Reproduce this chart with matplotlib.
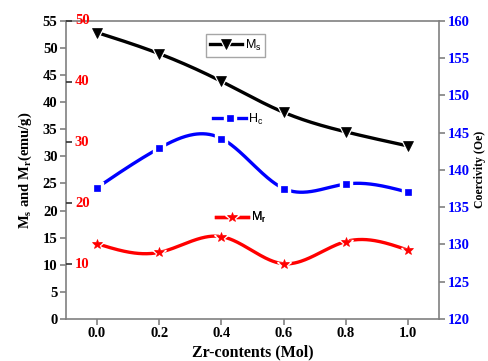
import numpy as np
import matplotlib
matplotlib.use("Agg")
import matplotlib.pyplot as plt
from matplotlib.lines import Line2D
from matplotlib.legend_handler import HandlerTuple

zr = [0.0, 0.2, 0.4, 0.6, 0.8, 1.0]
ms = [52.8, 48.9, 43.8, 38.1, 34.5, 31.9]
mr = [13.9, 12.3, 15.2, 10.2, 14.3, 12.7]
hc = [137.6, 142.9, 144.2, 137.5, 138.1, 137.0]

left_ticks = list(range(0, 56, 5))
red_ticks = [10, 20, 30, 40, 50]
right_ticks = list(range(120, 161, 5))
x_ticks = [0.0, 0.2, 0.4, 0.6, 0.8, 1.0]


def natural_spline(x, y, n=300):
    x = np.asarray(x, float)
    y = np.asarray(y, float)
    k = len(x)
    h = np.diff(x)
    A = np.zeros((k, k))
    b = np.zeros(k)
    A[0, 0] = 1
    A[-1, -1] = 1
    for i in range(1, k - 1):
        A[i, i - 1] = h[i - 1]
        A[i, i] = 2 * (h[i - 1] + h[i])
        A[i, i + 1] = h[i]
        b[i] = 6 * ((y[i + 1] - y[i]) / h[i] - (y[i] - y[i - 1]) / h[i - 1])
    M = np.linalg.solve(A, b)
    xs = np.linspace(x[0], x[-1], n)
    ys = np.empty_like(xs)
    for j, xv in enumerate(xs):
        i = min(np.searchsorted(x, xv, side="right") - 1, k - 2)
        t1 = x[i + 1] - xv
        t0 = xv - x[i]
        ys[j] = (M[i] * t1 ** 3 / (6 * h[i]) + M[i + 1] * t0 ** 3 / (6 * h[i])
                 + (y[i] / h[i] - M[i] * h[i] / 6) * t1
                 + (y[i + 1] / h[i] - M[i + 1] * h[i] / 6) * t0)
    return xs, ys


plt.rcParams['font.family'] = ['Liberation Serif', 'DejaVu Serif']
plt.rcParams['mathtext.fontset'] = 'custom'
plt.rcParams['mathtext.rm'] = 'Liberation Serif:bold'
plt.rcParams['mathtext.bf'] = 'Liberation Serif:bold'

fig = plt.figure(figsize=(4.88, 3.61), dpi=100)
ax = fig.add_axes([0.135, 0.116, 0.765, 0.827])
spine_c = '#808080'
for s in ax.spines.values():
    s.set_color(spine_c)
    s.set_linewidth(1.2)

lw = 2.4
styles = {
    'ms': dict(color='black', marker='v', size=7),
    'mr': dict(color='red', marker='*', size=7.5),
    'hc': dict(color='blue', marker='s', size=5),
}


def draw(a, x, y, st):
    xs, ys = natural_spline(x, y)
    a.plot(xs, ys, color=st['color'], lw=lw, zorder=3)
    a.plot(x, y, ls='none', marker=st['marker'], ms=st['size'] + 3, color='white',
           mec='white', zorder=4)
    a.plot(x, y, ls='none', marker=st['marker'], ms=st['size'], color=st['color'],
           mec=st['color'], mew=0.5, zorder=5)


draw(ax, zr, ms, styles['ms'])
draw(ax, zr, mr, styles['mr'])

ax.set_xlim(-0.1, 1.1)
ax.set_ylim(0, 55)
ax.set_xticks(x_ticks)
ax.set_xticklabels([f"{v:.1f}" for v in x_ticks])
ax.set_yticks(left_ticks)
ax.tick_params(axis='both', direction='out', length=4, width=1.2, color=spine_c,
               labelsize=10.5, pad=2)
for lab in ax.get_xticklabels() + ax.get_yticklabels():
    lab.set_fontweight('bold')
ax.set_xlabel('Zr-contents (Mol)', fontsize=11.5, fontweight='bold', labelpad=3)
ax.set_ylabel(r'M$_\mathbf{s}$ and M$_\mathbf{r}$(emu/g)', fontsize=10.5,
              fontweight='bold', labelpad=6)

# red inner axis
axr = ax.twinx()
axr.set_ylim(1.0, 50)
axr.yaxis.set_ticks_position('left')
axr.set_yticks(red_ticks)
axr.tick_params(axis='y', direction='in', length=4, width=1.2, color='#333333',
                labelsize=10.5, labelcolor='red', pad=-6.5)
for lab in axr.get_yticklabels():
    lab.set_fontweight('bold')
    lab.set_horizontalalignment('left')
    lab.set_verticalalignment('center')
for s in axr.spines.values():
    s.set_visible(False)

# Hc axis
ax2 = ax.twinx()
for s in ax2.spines.values():
    s.set_visible(False)
draw(ax2, zr, hc, styles['hc'])
ax2.set_ylim(120, 160)
ax2.set_yticks(right_ticks)
ax2.tick_params(axis='y', direction='out', length=4, width=1.2, color=spine_c,
                labelsize=10.5, labelcolor='blue', pad=2)
for lab in ax2.get_yticklabels():
    lab.set_fontweight('bold')
ax2.set_ylabel('Coercivity (Oe)', fontsize=8.5, fontweight='bold', labelpad=3)

leg_font = {'family': 'Liberation Sans', 'size': 9}


def mk_leg(st, label, anchor, frame):
    line = Line2D([], [], color=st['color'], lw=lw)
    under = Line2D([], [], ls='none', marker=st['marker'], ms=st['size'] + 3,
                   color='white', mec='white')
    top = Line2D([], [], ls='none', marker=st['marker'], ms=st['size'],
                 color=st['color'], mec=st['color'], mew=0.5)
    lg = ax2.legend([(line, under, top)], [label], loc='center left',
                    bbox_to_anchor=anchor, frameon=frame, prop=leg_font,
                    handlelength=2.6, handletextpad=0.2, borderpad=0.3,
                    borderaxespad=0, fancybox=False,
                    handler_map={tuple: HandlerTuple(ndivide=1, pad=0)})
    if frame:
        lg.get_frame().set_edgecolor('#909090')
        lg.get_frame().set_linewidth(1.0)
    ax2.add_artist(lg)
    return lg


mk_leg(styles['ms'], r'M$_\mathregular{s}$', (0.375, 0.917), True)
mk_leg(styles['hc'], r'H$_\mathregular{c}$', (0.385, 0.67), False)
mk_leg(styles['mr'], r'M$_\mathregular{r}$', (0.392, 0.34), False)

fig.savefig('out.png', dpi=100)
